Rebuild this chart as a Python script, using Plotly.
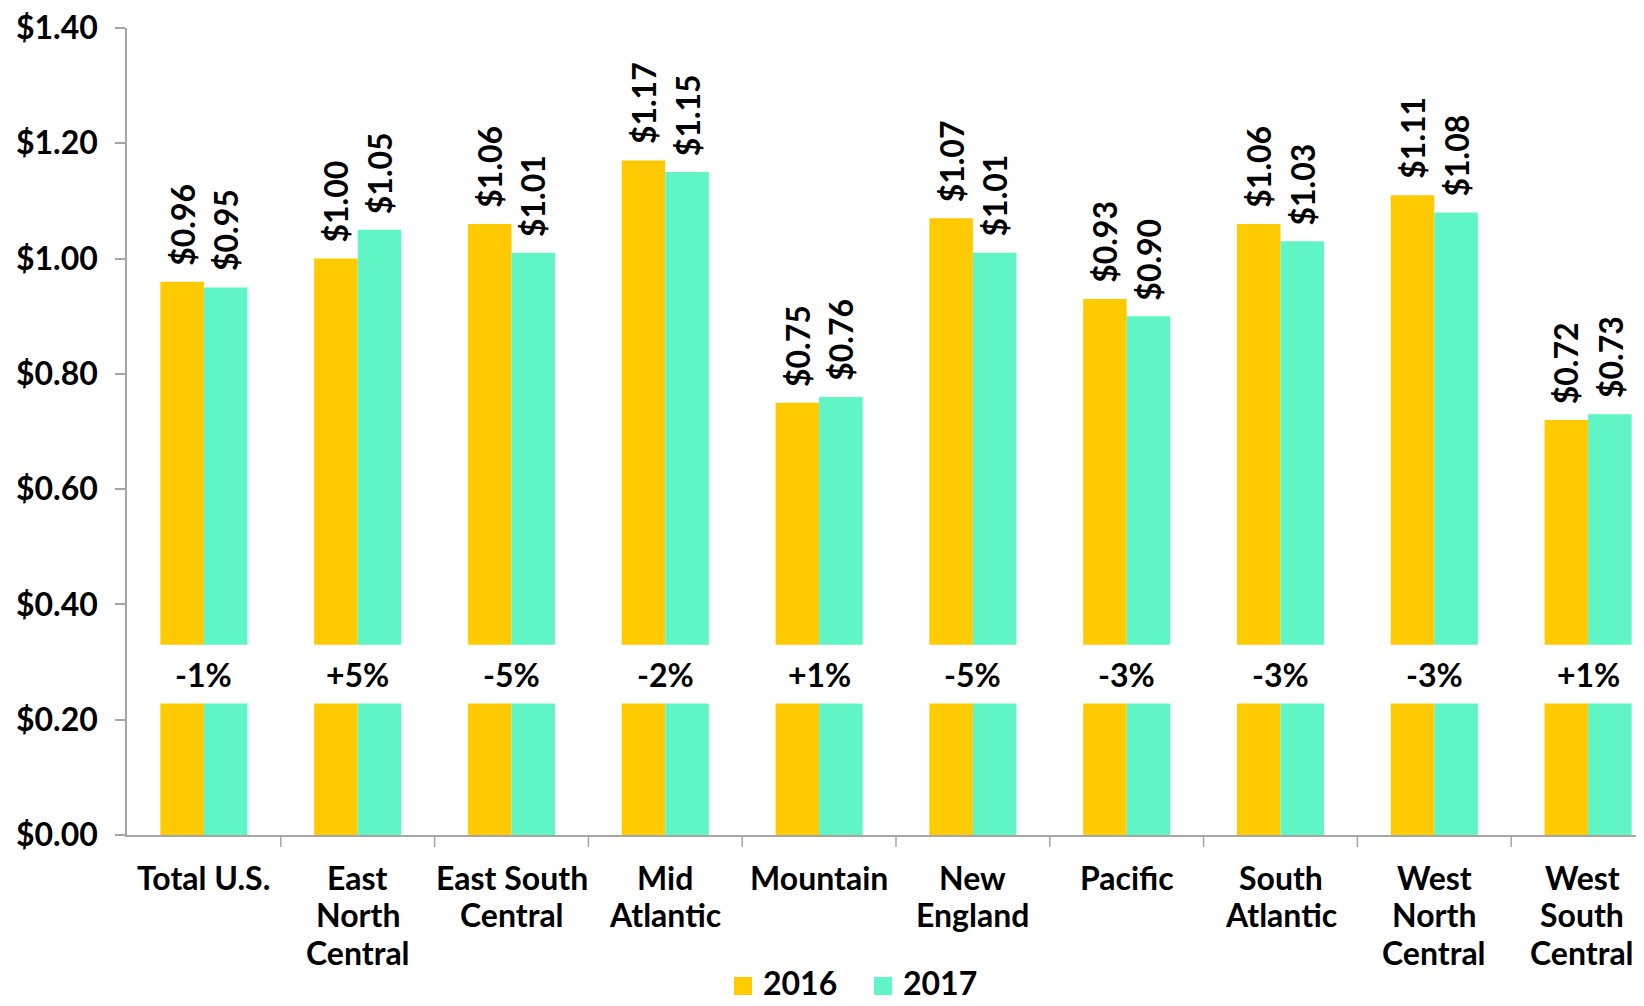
import plotly.graph_objects as go

# 数据：各地区 2016 / 2017 价格及同比变化
regions = [
    "Total U.S.", "East<br>North<br>Central", "East South<br>Central", "Mid<br>Atlantic",
    "Mountain", "New<br>England", "Pacific", "South<br>Atlantic",
    "West<br>North<br>Central", "West<br>South<br>Central",
]
price_2016 = [0.96, 1.00, 1.06, 1.17, 0.75, 1.07, 0.93, 1.06, 1.11, 0.72]
price_2017 = [0.95, 1.05, 1.01, 1.15, 0.76, 1.01, 0.90, 1.03, 1.08, 0.73]
pct_change = ["-1%", "+5%", "-5%", "-2%", "+1%", "-5%", "-3%", "-3%", "-3%", "+1%"]
years = ["2016", "2017"]

C16 = "#ffcb00"
C17 = "#60f5c4"
FONT = "Lato"
BREAK_LO, BREAK_HI = 0.228, 0.330   # 断轴留白区间
BARGAP = 0.434
HALF = (1 - BARGAP) / 4             # 组内每根柱中心偏移
CAT_PX = 153.8                      # 每个类别的像素宽度

# 页面 body 默认有 8px 外边距；图缩小 16px，避免页面出现滚动条
OFF = 8
W, H = 1644 - 2 * OFF, 1006 - 2 * OFF
ML, MR, MT = 127 - OFF, 0, 28 - OFF
MB = H - (835 - OFF)
PW, PH = W - ML - MR, H - MT - MB


def px_x(p):
    """页面像素 x → paper 坐标"""
    return (p - OFF - ML) / PW


def px_y(p):
    """页面像素 y → paper 坐标"""
    return (H - MB - (p - OFF)) / PH


idx = list(range(len(regions)))

fig = go.Figure()
for name, vals, color, grp in [(years[0], price_2016, C16, "a"), (years[1], price_2017, C17, "b")]:
    # 下段：0 → 断点
    fig.add_trace(go.Bar(
        x=idx, y=[BREAK_LO] * len(vals), name=name, offsetgroup=grp,
        marker=dict(color=color, line=dict(width=0)), showlegend=False,
    ))
    # 上段：断点上沿 → 实际值
    fig.add_trace(go.Bar(
        x=idx, y=[v - BREAK_HI for v in vals], base=BREAK_HI, name=name, offsetgroup=grp,
        marker=dict(color=color, line=dict(width=0)), showlegend=False,
    ))

for i in idx:
    # 柱顶数值标签（竖排）
    for vals, dx in [(price_2016, -HALF), (price_2017, HALF)]:
        fig.add_annotation(
            x=i + dx, y=vals[i], text=f"${vals[i]:.2f}", textangle=-90,
            showarrow=False, xanchor="center", yanchor="bottom", yshift=14,
            font=dict(family=FONT, size=32, color="#000", weight="bold"),
        )
    # 断口处的同比变化
    fig.add_annotation(
        x=i, y=(BREAK_LO + BREAK_HI) / 2, text=pct_change[i], showarrow=False,
        xanchor="center", yanchor="middle",
        font=dict(family=FONT, size=32, color="#000", weight="bold"),
    )
    # 类别标签：逐行放，行距比 plotly 默认的紧；最后一个往左挪一点以免被裁
    nudge = -6 if i == idx[-1] else 0
    for j, line in enumerate(regions[i].split("<br>")):
        fig.add_annotation(
            x=i, xref="x", yref="paper", y=px_y(877 + 37.6 * j), xshift=nudge,
            text=line, showarrow=False, xanchor="center", yanchor="middle",
            font=dict(family=FONT, size=32, color="#000", weight="bold"),
        )

# 手绘图例：方块 + 文字
for k, (name, color) in enumerate([(years[0], C16), (years[1], C17)]):
    sx = 743 + 140 * k
    fig.add_shape(
        type="rect", xref="paper", yref="paper",
        xsizemode="pixel", ysizemode="pixel",
        xanchor=px_x(sx), yanchor=px_y(986),
        x0=-9, x1=9, y0=-9, y1=9,
        fillcolor=color, line=dict(width=0),
    )
    fig.add_annotation(
        xref="paper", yref="paper", x=px_x(sx + 18), y=px_y(982),
        text=name, showarrow=False, xanchor="left", yanchor="middle",
        font=dict(family=FONT, size=32, color="#000", weight="bold"),
    )

axis_col = "#a6a6a6"
fig.update_layout(
    width=W, height=H,
    margin=dict(l=ML, r=MR, t=MT, b=MB, autoexpand=False),
    paper_bgcolor="white", plot_bgcolor="white",
    barmode="group", bargap=BARGAP, bargroupgap=0,
    font=dict(family=FONT, color="#000"),
    showlegend=False,
    xaxis=dict(
        type="linear", range=[-0.5, -0.5 + PW / CAT_PX], automargin=False,
        showticklabels=False,
        showgrid=False, zeroline=False,
        showline=True, linecolor=axis_col, linewidth=1.5, ticks="",
    ),
    yaxis=dict(
        range=[0, 1.40], dtick=0.2, tickprefix="$", tickformat=".2f", automargin=False,
        showgrid=False, zeroline=False,
        showline=True, linecolor=axis_col, linewidth=1.5,
        ticks="outside", ticklen=10, tickcolor=axis_col, tickwidth=1.5,
        tickfont=dict(family=FONT, size=32, color="#000", weight="bold"),
        ticklabelstandoff=11, ticklabeloverflow="allow",
    ),
)

# 类别分界刻度（x 轴向下的短刻度线）
for b in [k + 0.5 for k in idx[:-1]]:
    fig.add_shape(
        type="line", xref="x", yref="paper", x0=b, x1=b, y0=0, y1=-12 / PH,
        line=dict(color=axis_col, width=1.5),
    )

fig.write_html("out.html")
